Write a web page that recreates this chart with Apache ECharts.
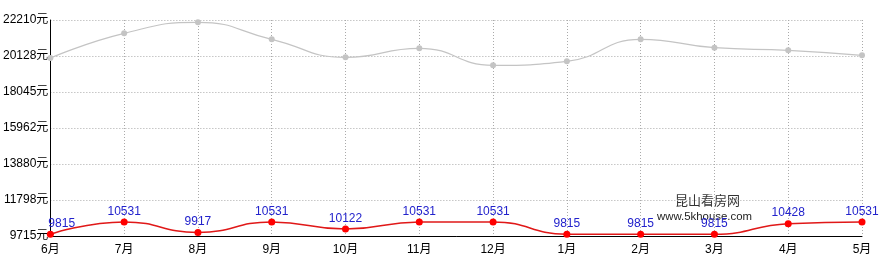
<!DOCTYPE html>
<html><head><meta charset="utf-8">
<script src="https://cdn.jsdelivr.net/npm/echarts@6/dist/echarts.min.js"></script>
<style>html,body{margin:0;padding:0;background:#fff}#c{width:892px;height:270px}</style>
</head><body><div id="c"></div>
<script>
var categories = ['6月','7月','8月','9月','10月','11月','12月','1月','2月','3月','4月','5月'];
var grayValues = [20012, 21440, 22077, 21093, 20052, 20573, 19589, 19821, 21093, 20608, 20457, 20168];
var redValues = [9815, 10531, 9917, 10531, 10122, 10531, 10531, 9815, 9815, 9815, 10428, 10531];
var yTickLabels = ['9715', '11798', '13880', '15962', '18045', '20128', '22210'];
var yMin = 9715, yMax = 22210;

var FONT = "Arial, 'Liberation Sans', 'Noto Sans CJK SC', sans-serif";
var redData = redValues.map(function (v, i) {
  return i === 0 ? {value: v, label: {align: 'left', offset: [-2, 0]}} : v;
});
var chart = echarts.init(document.getElementById('c'), null, {renderer: 'canvas'});
chart.setOption({
  animation: false,
  grid: {left: 48, right: 30, top: 20, bottom: 34, containLabel: false},
  xAxis: {
    type: 'category', data: categories, boundaryGap: false,
    axisLine: {lineStyle: {color: '#000', width: 1}},
    axisTick: {show: false},
    axisLabel: {color: '#000', fontSize: 12, fontFamily: FONT, margin: 8},
    splitLine: {show: true, lineStyle: {color: '#aaa', type: [1, 2]}}
  },
  yAxis: {
    type: 'value', min: yMin, max: yMax, interval: (yMax - yMin) / 6,
    axisLine: {show: true, lineStyle: {color: '#000', width: 1}},
    axisTick: {show: false},
    axisLabel: {color: '#000', fontSize: 12, fontFamily: FONT, margin: 2,
      formatter: function (v) {
        var idx = Math.round((v - yMin) / ((yMax - yMin) / 6));
        return (yTickLabels[idx] || Math.round(v)) + '元';
      }},
    splitLine: {show: true, lineStyle: {color: '#aaa', type: [1, 2]}}
  },
  graphic: [
    {type: 'text', left: 675, top: 194, style: {text: '昆山看房网', fill: '#333', font: "13px 'Noto Sans CJK SC', sans-serif"}},
    {type: 'text', left: 657, top: 211, style: {text: 'www.5khouse.com', fill: '#222', font: "11.4px " + FONT}}
  ],
  series: [
    {type: 'line', data: grayValues, smooth: true, symbol: 'circle', symbolSize: 6,
      itemStyle: {color: '#c4c4c4'}, lineStyle: {color: '#c4c4c4', width: 1.2}},
    {type: 'line', data: redData, smooth: true, symbol: 'circle', symbolSize: 7,
      itemStyle: {color: '#ff0000'}, lineStyle: {color: '#e01818', width: 1.5},
      label: {show: true, position: 'top', color: '#2222cc', fontSize: 12, fontFamily: FONT, distance: 1}}
  ]
});
</script></body></html>
